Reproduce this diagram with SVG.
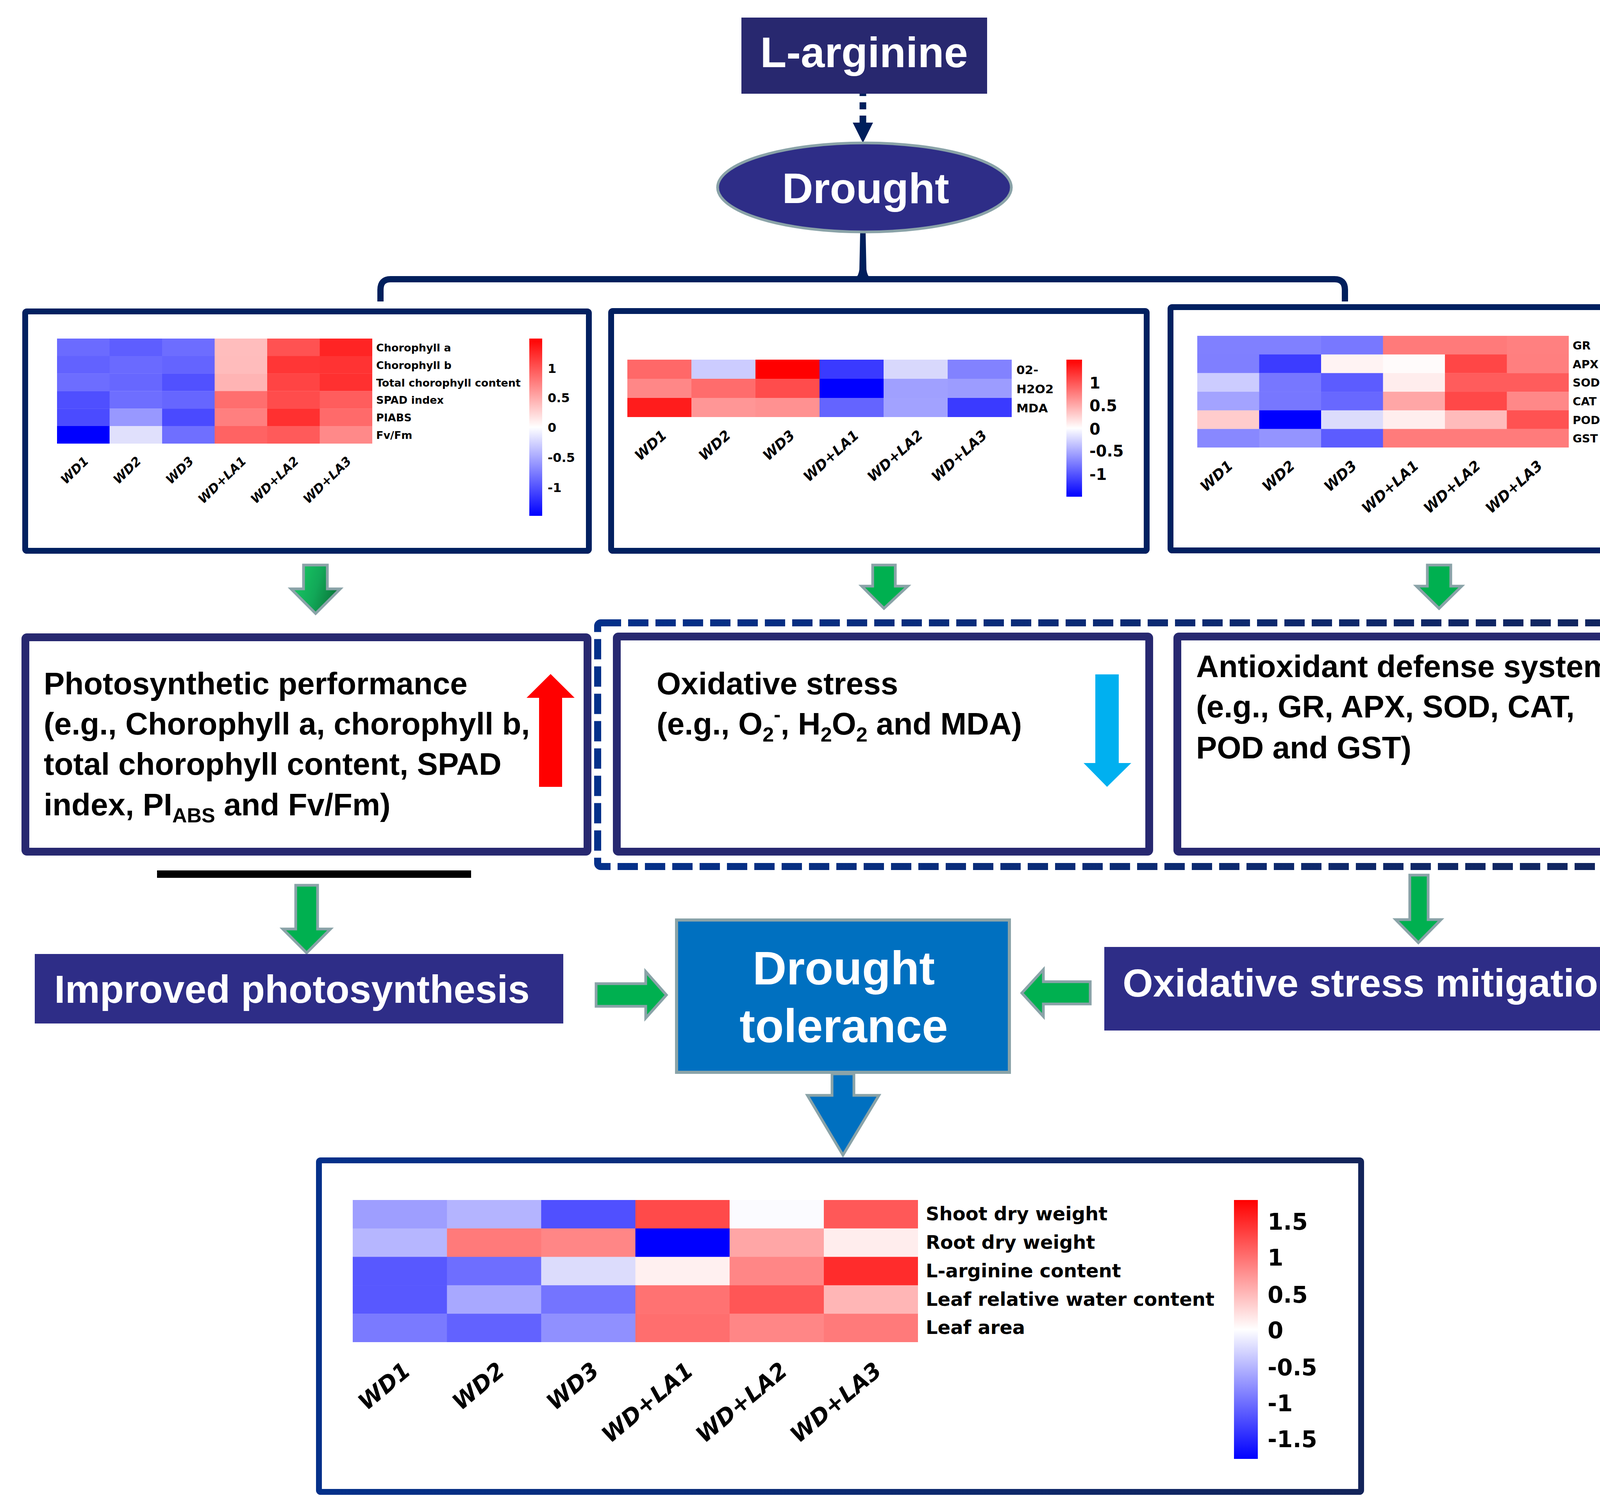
<svg xmlns="http://www.w3.org/2000/svg" width="4450" height="3872" viewBox="0 0 4450 3872">
<defs>
<linearGradient id="cbar" x1="0" y1="0" x2="0" y2="1"><stop offset="0" stop-color="#ff0000"/><stop offset="0.5" stop-color="#ffffff"/><stop offset="1" stop-color="#0000ff"/></linearGradient>
<linearGradient id="navy" x1="0" y1="0" x2="1" y2="0"><stop offset="0" stop-color="#04308a"/><stop offset="1" stop-color="#13245a"/></linearGradient>
<linearGradient id="grn" x1="0" y1="0" x2="1" y2="0.3"><stop offset="0" stop-color="#18d065"/><stop offset="0.6" stop-color="#12a858"/><stop offset="1" stop-color="#0b7a3c"/></linearGradient>
</defs>
<style>
.hb{fill:none;stroke:#012060;stroke-width:15}
.mb{fill:#ffffff;stroke:#272870;stroke-width:20}
.lab{font-family:"DejaVu Sans",sans-serif;font-weight:bold;fill:#000}
.col{font-family:"DejaVu Sans",sans-serif;font-weight:bold;font-style:italic;fill:#000;text-anchor:end}
.big{font-family:"Liberation Sans",Arial,sans-serif;font-weight:bold;font-size:80px;fill:#000}
.wt{font-family:"Liberation Sans",Arial,sans-serif;font-weight:bold;fill:#fff}
.ga{fill:#00b050;stroke:#8aa3a8;stroke-width:7}
.con{fill:none;stroke:#001f5c;stroke-width:16}
</style>

<g id="connectors">
<line x1="2209" y1="194" x2="2209" y2="314" stroke="#001f5c" stroke-width="17" stroke-dasharray="18 16"/>
<polygon points="2183,314 2235,314 2209,366" fill="#001f5c"/>
<path class="con" d="M974 772 V742 Q974 715 1000 715 H3416 Q3443 715 3443 742 V772"/>
<path d="M2202 596 H2216 L2218 690 Q2220 706 2228 712 H2190 Q2198 706 2200 690 Z" fill="#001f5c"/>
<polygon points="777,1447 838,1447 838,1508 871,1508 808,1571 745,1508 777,1508" fill="url(#grn)" stroke="#8aa3a8" stroke-width="7"/>
<polygon class="ga" points="2234,1447 2292,1447 2292,1501 2324,1501 2263,1558 2206,1501 2234,1501"/>
<polygon class="ga" points="3654,1447 3714,1447 3714,1501 3742,1501 3684,1558 3626,1501 3654,1501"/>
<polygon class="ga" points="757,2267 813,2267 813,2379 846,2379 785,2440 724,2379 757,2379"/>
<polygon class="ga" points="3609,2241 3656,2241 3656,2355 3689,2355 3631,2414 3573,2355 3609,2355"/>
<polygon class="ga" points="1526,2519 1653,2519 1653,2488 1706,2548 1653,2607 1653,2577 1526,2577"/>
<polygon class="ga" points="2791,2514 2671,2514 2671,2483 2616,2543 2671,2603 2671,2571 2791,2571"/>
<polygon points="2130,2750 2186,2750 2186,2805 2250,2805 2158,2958 2067,2805 2130,2805" fill="#0070c0" stroke="#8aa3a8" stroke-width="7"/>
<rect x="402" y="2229" width="804" height="19" fill="#000"/>
</g>

<g id="l-arginine">
<rect x="1898" y="45" width="629" height="195" fill="#28286f"/>
<text class="wt" x="2212" y="172" font-size="110" text-anchor="middle">L-arginine</text>
</g>

<g id="drought">
<ellipse cx="2213" cy="480" rx="376" ry="114" fill="#2e2d87" stroke="#8aa3a8" stroke-width="7"/>
<text class="wt" x="2216" y="520" font-size="110" text-anchor="middle">Drought</text>
</g>

<g id="heatmap-photosynthesis">
<rect class="hb" x="64.5" y="797.5" width="1443" height="613" rx="4"/>
<g>
<rect x="146" y="867" width="135" height="45" fill="#6b6bff"/><rect x="280.5" y="867" width="135" height="45" fill="#5e5eff"/><rect x="415" y="867" width="135" height="45" fill="#6d6dff"/><rect x="549.5" y="867" width="135" height="45" fill="#ffbdbd"/><rect x="684" y="867" width="135" height="45" fill="#ff5252"/><rect x="818.5" y="867" width="134.5" height="45" fill="#ff2424"/>
<rect x="146" y="911.8" width="135" height="45" fill="#6262ff"/><rect x="280.5" y="911.8" width="135" height="45" fill="#6a6aff"/><rect x="415" y="911.8" width="135" height="45" fill="#6464ff"/><rect x="549.5" y="911.8" width="135" height="45" fill="#ffbcbc"/><rect x="684" y="911.8" width="135" height="45" fill="#ff3636"/><rect x="818.5" y="911.8" width="134.5" height="45" fill="#ff3333"/>
<rect x="146" y="956.6" width="135" height="45" fill="#6d6dff"/><rect x="280.5" y="956.6" width="135" height="45" fill="#6767ff"/><rect x="415" y="956.6" width="135" height="45" fill="#5151ff"/><rect x="549.5" y="956.6" width="135" height="45" fill="#ffb4b4"/><rect x="684" y="956.6" width="135" height="45" fill="#ff4444"/><rect x="818.5" y="956.6" width="134.5" height="45" fill="#ff3030"/>
<rect x="146" y="1001.4" width="135" height="45" fill="#4f4fff"/><rect x="280.5" y="1001.4" width="135" height="45" fill="#6e6eff"/><rect x="415" y="1001.4" width="135" height="45" fill="#6666ff"/><rect x="549.5" y="1001.4" width="135" height="45" fill="#ff6e6e"/><rect x="684" y="1001.4" width="135" height="45" fill="#ff4c4c"/><rect x="818.5" y="1001.4" width="134.5" height="45" fill="#ff5d5d"/>
<rect x="146" y="1046.2" width="135" height="45" fill="#4b4bff"/><rect x="280.5" y="1046.2" width="135" height="45" fill="#9898ff"/><rect x="415" y="1046.2" width="135" height="45" fill="#4a4aff"/><rect x="549.5" y="1046.2" width="135" height="45" fill="#ff7f7f"/><rect x="684" y="1046.2" width="135" height="45" fill="#ff3030"/><rect x="818.5" y="1046.2" width="134.5" height="45" fill="#ff6a6a"/>
<rect x="146" y="1091" width="135" height="45" fill="#0000ff"/><rect x="280.5" y="1091" width="135" height="45" fill="#e0e0fc"/><rect x="415" y="1091" width="135" height="45" fill="#6f6fff"/><rect x="549.5" y="1091" width="135" height="45" fill="#ff6363"/><rect x="684" y="1091" width="135" height="45" fill="#ff5a5a"/><rect x="818.5" y="1091" width="134.5" height="45" fill="#ff8989"/>
</g>
<g class="lab" font-size="27">
<text x="963" y="900">Chorophyll a</text><text x="963" y="945">Chorophyll b</text><text x="963" y="990">Total chorophyll content</text><text x="963" y="1034">SPAD index</text><text x="963" y="1079">PIABS</text><text x="963" y="1124">Fv/Fm</text>
</g>
<rect x="1355" y="867" width="33" height="454" fill="url(#cbar)"/>
<g class="lab" font-size="32">
<text x="1402" y="955">1</text><text x="1402" y="1030">0.5</text><text x="1402" y="1106">0</text><text x="1402" y="1183">-0.5</text><text x="1402" y="1260">-1</text>
</g>
<g class="col" font-size="32">
<text transform="translate(229,1183) rotate(-44)">WD1</text><text transform="translate(363.5,1183) rotate(-44)">WD2</text><text transform="translate(498,1183) rotate(-44)">WD3</text><text transform="translate(632.5,1183) rotate(-44)">WD+LA1</text><text transform="translate(767,1183) rotate(-44)">WD+LA2</text><text transform="translate(901.5,1183) rotate(-44)">WD+LA3</text>
</g>
</g>

<g id="heatmap-oxidative">
<rect class="hb" x="1564.5" y="796.5" width="1371" height="614" rx="4"/>
<g>
<rect x="1606" y="921" width="164.5" height="49.5" fill="#ff6868"/><rect x="1770" y="921" width="164.5" height="49.5" fill="#ccccff"/><rect x="1934" y="921" width="164.5" height="49.5" fill="#ff0000"/><rect x="2098" y="921" width="164.5" height="49.5" fill="#3a3aff"/><rect x="2262" y="921" width="164.5" height="49.5" fill="#d8d8fc"/><rect x="2426" y="921" width="164" height="49.5" fill="#8282ff"/>
<rect x="1606" y="970" width="164.5" height="49.5" fill="#ff8787"/><rect x="1770" y="970" width="164.5" height="49.5" fill="#ff6c6c"/><rect x="1934" y="970" width="164.5" height="49.5" fill="#ff4c4c"/><rect x="2098" y="970" width="164.5" height="49.5" fill="#0000ff"/><rect x="2262" y="970" width="164.5" height="49.5" fill="#a0a0ff"/><rect x="2426" y="970" width="164" height="49.5" fill="#9c9cff"/>
<rect x="1606" y="1019" width="164.5" height="49" fill="#ff1c1c"/><rect x="1770" y="1019" width="164.5" height="49" fill="#ff9696"/><rect x="1934" y="1019" width="164.5" height="49" fill="#ff9191"/><rect x="2098" y="1019" width="164.5" height="49" fill="#6464ff"/><rect x="2262" y="1019" width="164.5" height="49" fill="#a2a2ff"/><rect x="2426" y="1019" width="164" height="49" fill="#3a3aff"/>
</g>
<g class="lab" font-size="31">
<text x="2602" y="958">02-</text><text x="2602" y="1007">H2O2</text><text x="2602" y="1056">MDA</text>
</g>
<rect x="2730" y="921" width="40" height="351" fill="url(#cbar)"/>
<g class="lab" font-size="40">
<text x="2789" y="995">1</text><text x="2789" y="1053">0.5</text><text x="2789" y="1113">0</text><text x="2789" y="1169">-0.5</text><text x="2789" y="1229">-1</text>
</g>
<g class="col" font-size="36">
<text transform="translate(1709,1118) rotate(-42)">WD1</text><text transform="translate(1873,1118) rotate(-42)">WD2</text><text transform="translate(2037,1118) rotate(-42)">WD3</text><text transform="translate(2201,1118) rotate(-42)">WD+LA1</text><text transform="translate(2365,1118) rotate(-42)">WD+LA2</text><text transform="translate(2529,1118) rotate(-42)">WD+LA3</text>
</g>
</g>

<g id="heatmap-antioxidant">
<rect class="hb" x="2996.5" y="786.5" width="1360" height="623" rx="4"/>
<g>
<rect x="3065" y="860" width="159" height="48" fill="#8080ff"/><rect x="3223.5" y="860" width="159" height="48" fill="#8080ff"/><rect x="3382" y="860" width="159" height="48" fill="#7878ff"/><rect x="3540.5" y="860" width="159" height="48" fill="#ff7a7a"/><rect x="3699" y="860" width="159" height="48" fill="#ff7a7a"/><rect x="3857.5" y="860" width="158.5" height="48" fill="#ff8080"/>
<rect x="3065" y="907.7" width="159" height="48" fill="#7f7fff"/><rect x="3223.5" y="907.7" width="159" height="48" fill="#3c3cff"/><rect x="3382" y="907.7" width="159" height="48" fill="#fff3f3"/><rect x="3540.5" y="907.7" width="159" height="48" fill="#fffbfb"/><rect x="3699" y="907.7" width="159" height="48" fill="#ff4646"/><rect x="3857.5" y="907.7" width="158.5" height="48" fill="#ff7f7f"/>
<rect x="3065" y="955.4" width="159" height="48" fill="#ccccff"/><rect x="3223.5" y="955.4" width="159" height="48" fill="#7777ff"/><rect x="3382" y="955.4" width="159" height="48" fill="#5c5cff"/><rect x="3540.5" y="955.4" width="159" height="48" fill="#ffeded"/><rect x="3699" y="955.4" width="159" height="48" fill="#ff5c5c"/><rect x="3857.5" y="955.4" width="158.5" height="48" fill="#ff5c5c"/>
<rect x="3065" y="1003.1" width="159" height="48" fill="#a3a3ff"/><rect x="3223.5" y="1003.1" width="159" height="48" fill="#7777ff"/><rect x="3382" y="1003.1" width="159" height="48" fill="#6868ff"/><rect x="3540.5" y="1003.1" width="159" height="48" fill="#ffa6a6"/><rect x="3699" y="1003.1" width="159" height="48" fill="#ff4848"/><rect x="3857.5" y="1003.1" width="158.5" height="48" fill="#ff8888"/>
<rect x="3065" y="1050.8" width="159" height="48" fill="#ffcccc"/><rect x="3223.5" y="1050.8" width="159" height="48" fill="#0000ff"/><rect x="3382" y="1050.8" width="159" height="48" fill="#dcdcfc"/><rect x="3540.5" y="1050.8" width="159" height="48" fill="#ffeeee"/><rect x="3699" y="1050.8" width="159" height="48" fill="#ffbbbb"/><rect x="3857.5" y="1050.8" width="158.5" height="48" fill="#ff5252"/>
<rect x="3065" y="1098.5" width="159" height="47.5" fill="#8888ff"/><rect x="3223.5" y="1098.5" width="159" height="47.5" fill="#9494ff"/><rect x="3382" y="1098.5" width="159" height="47.5" fill="#5c5cff"/><rect x="3540.5" y="1098.5" width="159" height="47.5" fill="#ff7b7b"/><rect x="3699" y="1098.5" width="159" height="47.5" fill="#ff7b7b"/><rect x="3857.5" y="1098.5" width="158.5" height="47.5" fill="#ff7b7b"/>
</g>
<g class="lab" font-size="29">
<text x="4026" y="895">GR</text><text x="4026" y="943">APX</text><text x="4026" y="990">SOD</text><text x="4026" y="1038">CAT</text><text x="4026" y="1086">POD</text><text x="4026" y="1133">GST</text>
</g>
<rect x="4132" y="860" width="38" height="483" fill="url(#cbar)"/>
<g class="lab" font-size="36">
<text x="4190" y="916">1.5</text><text x="4190" y="981">1</text><text x="4190" y="1048">0.5</text><text x="4190" y="1115">0</text><text x="4190" y="1183">-0.5</text><text x="4190" y="1249">-1</text><text x="4190" y="1317">-1.5</text>
</g>
<g class="col" font-size="37">
<text transform="translate(3159,1196) rotate(-42)">WD1</text><text transform="translate(3317.5,1196) rotate(-42)">WD2</text><text transform="translate(3476,1196) rotate(-42)">WD3</text><text transform="translate(3634.5,1196) rotate(-42)">WD+LA1</text><text transform="translate(3793,1196) rotate(-42)">WD+LA2</text><text transform="translate(3951.5,1196) rotate(-42)">WD+LA3</text>
</g>
</g>

<g id="dashed-group">
<rect x="1530" y="1595" width="2862" height="624" rx="8" fill="none" stroke="url(#navy)" stroke-width="18" stroke-dasharray="52 18"/>
</g>

<g id="photosynthetic-performance">
<rect class="mb" x="65" y="1632" width="1439" height="549" rx="4"/>
<text class="big" x="112" y="1778">Photosynthetic performance</text>
<text class="big" x="112" y="1881">(e.g., Chorophyll a, chorophyll b,</text>
<text class="big" x="112" y="1984">total chorophyll content, SPAD</text>
<text class="big" x="112" y="2088">index, PI<tspan font-size="52" dy="18">ABS</tspan><tspan dy="-18"> and Fv/Fm)</tspan></text>
<polygon points="1409.5,1726 1471,1787 1439,1787 1439,2015 1380,2015 1380,1787 1348,1787" fill="#ff0000"/>
</g>

<g id="oxidative-stress">
<rect class="mb" x="1579" y="1630" width="1363" height="551" rx="4" stroke-width="19"/>
<text class="big" x="1681" y="1778">Oxidative stress</text>
<text class="big" x="1681" y="1881">(e.g., O<tspan font-size="52" dy="18">2</tspan><tspan font-size="52" dy="-52">-</tspan><tspan dy="34">, H</tspan><tspan font-size="52" dy="18">2</tspan><tspan dy="-18">O</tspan><tspan font-size="52" dy="18">2</tspan><tspan dy="-18"> and MDA)</tspan></text>
<polygon points="2804,1727 2864,1727 2864,1954 2896,1954 2834,2015 2774,1954 2804,1954" fill="#00b0f0"/>
</g>

<g id="antioxidant-defense">
<rect class="mb" x="3014" y="1630" width="1340" height="551" rx="4" stroke-width="19"/>
<text class="big" x="3062" y="1734">Antioxidant defense system</text>
<text class="big" x="3062" y="1837">(e.g., GR, APX, SOD, CAT,</text>
<text class="big" x="3062" y="1942">POD and GST)</text>
<polygon points="4228,1727 4290,1787 4258,1787 4258,2015 4198,2015 4198,1787 4168,1787" fill="#ffc000"/>
</g>

<g id="improved-photosynthesis">
<rect x="89" y="2443" width="1353" height="178" fill="#2e2d87"/>
<text class="wt" x="139" y="2568" font-size="100">Improved photosynthesis</text>
</g>

<g id="drought-tolerance">
<rect x="1732" y="2356" width="852" height="390" fill="#0070c0" stroke="#8aa3a8" stroke-width="8"/>
<text class="wt" x="2160" y="2521" font-size="120" text-anchor="middle">Drought</text>
<text class="wt" x="2160" y="2669" font-size="120" text-anchor="middle">tolerance</text>
</g>

<g id="oxidative-stress-mitigation">
<rect x="2827" y="2425" width="1459" height="214" fill="#2e2d87"/>
<text class="wt" x="2874" y="2552" font-size="100">Oxidative stress mitigation</text>
</g>

<g id="heatmap-growth">
<rect x="816.5" y="2971.5" width="2668" height="849" rx="4" fill="none" stroke="url(#navy)" stroke-width="15"/>
<g>
<rect x="903" y="3073" width="242" height="73.3" fill="#9e9eff"/><rect x="1144.2" y="3073" width="242" height="73.3" fill="#b4b4ff"/><rect x="1385.4" y="3073" width="242" height="73.3" fill="#5050ff"/><rect x="1626.6" y="3073" width="242" height="73.3" fill="#ff4a4a"/><rect x="1867.8" y="3073" width="242" height="73.3" fill="#fbfbff"/><rect x="2109" y="3073" width="241" height="73.3" fill="#ff5858"/>
<rect x="903" y="3145.8" width="242" height="73.3" fill="#b6b6ff"/><rect x="1144.2" y="3145.8" width="242" height="73.3" fill="#ff7a7a"/><rect x="1385.4" y="3145.8" width="242" height="73.3" fill="#ff8686"/><rect x="1626.6" y="3145.8" width="242" height="73.3" fill="#0000ff"/><rect x="1867.8" y="3145.8" width="242" height="73.3" fill="#ffa6a6"/><rect x="2109" y="3145.8" width="241" height="73.3" fill="#ffeded"/>
<rect x="903" y="3218.6" width="242" height="73.3" fill="#5858ff"/><rect x="1144.2" y="3218.6" width="242" height="73.3" fill="#6e6eff"/><rect x="1385.4" y="3218.6" width="242" height="73.3" fill="#dcdcfc"/><rect x="1626.6" y="3218.6" width="242" height="73.3" fill="#fff0f0"/><rect x="1867.8" y="3218.6" width="242" height="73.3" fill="#ff8686"/><rect x="2109" y="3218.6" width="241" height="73.3" fill="#ff2c2c"/>
<rect x="903" y="3291.4" width="242" height="73.3" fill="#5858ff"/><rect x="1144.2" y="3291.4" width="242" height="73.3" fill="#a8a8ff"/><rect x="1385.4" y="3291.4" width="242" height="73.3" fill="#7474ff"/><rect x="1626.6" y="3291.4" width="242" height="73.3" fill="#ff7272"/><rect x="1867.8" y="3291.4" width="242" height="73.3" fill="#ff5656"/><rect x="2109" y="3291.4" width="241" height="73.3" fill="#ffb6b6"/>
<rect x="903" y="3364.2" width="242" height="72.8" fill="#7a7aff"/><rect x="1144.2" y="3364.2" width="242" height="72.8" fill="#6262ff"/><rect x="1385.4" y="3364.2" width="242" height="72.8" fill="#9090ff"/><rect x="1626.6" y="3364.2" width="242" height="72.8" fill="#ff6e6e"/><rect x="1867.8" y="3364.2" width="242" height="72.8" fill="#ff8686"/><rect x="2109" y="3364.2" width="241" height="72.8" fill="#ff7a7a"/>
</g>
<g class="lab" font-size="48">
<text x="2370" y="3125">Shoot dry weight</text><text x="2370" y="3198">Root dry weight</text><text x="2370" y="3271">L-arginine content</text><text x="2370" y="3344">Leaf relative water content</text><text x="2370" y="3416">Leaf area</text>
</g>
<rect x="3159" y="3073" width="61" height="663" fill="url(#cbar)"/>
<g class="lab" font-size="58">
<text x="3245" y="3149">1.5</text><text x="3245" y="3241">1</text><text x="3245" y="3336">0.5</text><text x="3245" y="3427">0</text><text x="3245" y="3522">-0.5</text><text x="3245" y="3614">-1</text><text x="3245" y="3706">-1.5</text>
</g>
<g class="col" font-size="58">
<text transform="translate(1055,3516) rotate(-40)">WD1</text><text transform="translate(1296.2,3516) rotate(-40)">WD2</text><text transform="translate(1537.4,3516) rotate(-40)">WD3</text><text transform="translate(1778.6,3516) rotate(-40)">WD+LA1</text><text transform="translate(2019.8,3516) rotate(-40)">WD+LA2</text><text transform="translate(2261,3516) rotate(-40)">WD+LA3</text>
</g>
</g>
</svg>
